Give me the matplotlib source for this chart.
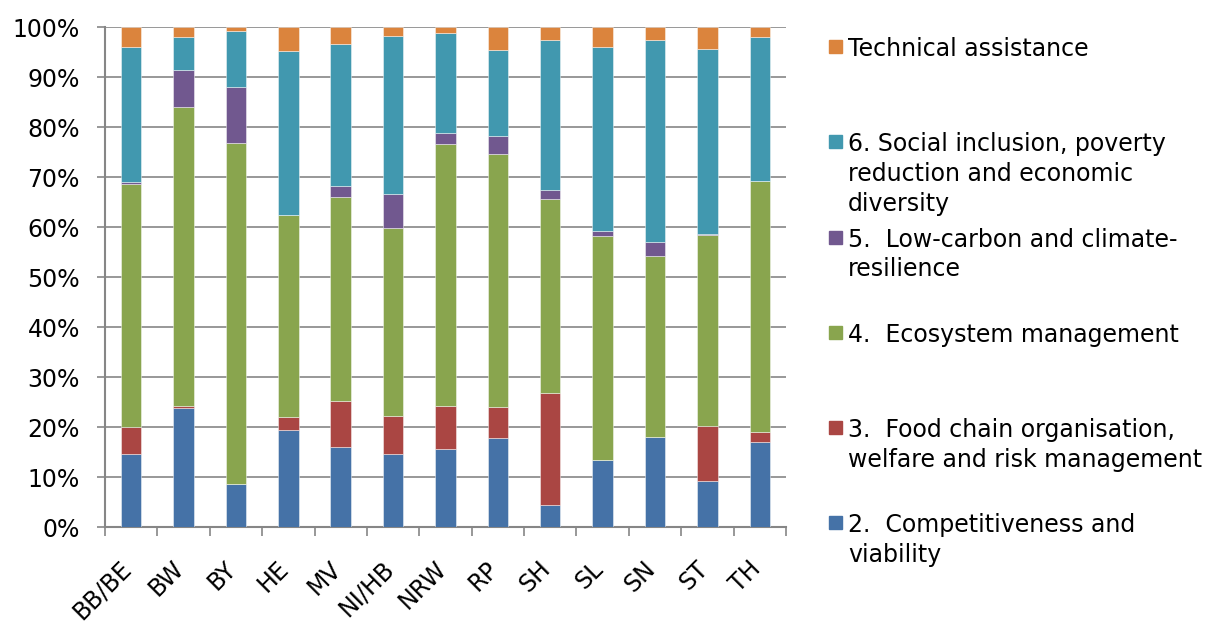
import numpy as np
import matplotlib.pyplot as plt
from matplotlib.patches import Rectangle
from matplotlib.ticker import MultipleLocator, PercentFormatter

# Share of planned spending per priority, by Land (in %)
regions = ['BB/BE', 'BW', 'BY', 'HE', 'MV', 'NI/HB', 'NRW',
           'RP', 'SH', 'SL', 'SN', 'ST', 'TH']

p2_competitiveness = [14.7, 23.9, 8.7, 19.4, 16.1, 14.7, 15.6, 17.8, 4.4, 13.5, 18.1, 9.3, 17.1]
p3_food_chain = [5.4, 0.3, 0.0, 2.6, 9.2, 7.6, 8.7, 6.2, 22.5, 0.0, 0.0, 11.0, 2.0]
p4_ecosystem = [48.5, 59.9, 68.2, 40.5, 40.8, 37.6, 52.4, 50.7, 38.8, 44.7, 36.2, 38.2, 50.1]
p5_low_carbon = [0.5, 7.3, 11.1, 0.0, 2.2, 6.7, 2.2, 3.5, 1.8, 1.0, 2.7, 0.2, 0.0]
p6_social = [27.0, 6.6, 11.3, 32.7, 28.3, 31.6, 20.0, 17.2, 29.9, 36.8, 40.4, 37.0, 28.9]
technical_assistance = [3.9, 2.0, 0.7, 4.8, 3.4, 1.8, 1.1, 4.6, 2.6, 4.0, 2.6, 4.3, 1.9]

series = [
    ('2.  Competitiveness and\nviability', p2_competitiveness, '#4572A7'),
    ('3.  Food chain organisation,\nwelfare and risk management', p3_food_chain, '#AA4643'),
    ('4.  Ecosystem management', p4_ecosystem, '#89A54E'),
    ('5.  Low-carbon and climate-\nresilience', p5_low_carbon, '#71588F'),
    ('6. Social inclusion, poverty\nreduction and economic\ndiversity', p6_social, '#4198AF'),
    ('Technical assistance', technical_assistance, '#DB843D'),
]

plt.rcParams['font.family'] = 'DejaVu Sans'
grey = '#868686'
fs = 17

fig = plt.figure(figsize=(12.12, 6.26), dpi=100)
ax = fig.add_axes([0.0866, 0.1577, 0.5619, 0.7987])

x = np.arange(len(regions))
bottom = np.zeros(len(regions))
for name, vals, col in series:
    vals = np.array(vals)
    ax.bar(x, vals, 0.39, bottom=bottom, color=col,
           edgecolor=(1, 1, 1, 0.45), linewidth=0.7, zorder=3)
    bottom += vals

ax.set_xlim(-0.5, len(regions) - 0.5)
ax.set_ylim(0, 100)
ax.yaxis.set_major_locator(MultipleLocator(10))
ax.yaxis.set_major_formatter(PercentFormatter(decimals=0))
ax.grid(axis='y', color=grey, linewidth=1.2, zorder=0)

# category ticks sit between the bars, labels slanted under each bar
ax.set_xticks(np.arange(-0.5, len(regions)), minor=False)
ax.set_xticklabels([])
ax.set_xticks(x - 0.22, minor=True)
ax.set_xticklabels(regions, minor=True, rotation=45, ha='right',
                   rotation_mode='anchor', fontsize=fs)
ax.tick_params(axis='x', which='minor', length=0, pad=21)
ax.tick_params(axis='x', which='major', length=6.5, width=1.2, color=grey)
ax.tick_params(axis='y', length=6, width=1.2, color=grey, labelsize=fs, pad=12)

for s in ['top', 'right']:
    ax.spines[s].set_visible(False)
for s in ['left', 'bottom']:
    ax.spines[s].set_color(grey)
    ax.spines[s].set_linewidth(1.5)

# legend on the right, top entry first
W, H = 1212, 626
step = 95.2
for i, (name, vals, col) in enumerate(series[::-1]):
    yc = 46.7 + i * step
    fig.add_artist(Rectangle((829 / W, 1 - (yc + 6.5) / H), 13 / W, 13 / H,
                             transform=fig.transFigure, color=col))
    fig.text(848 / W, 1 - (yc - 9.5) / H, name, fontsize=fs,
             va='top', ha='left', linespacing=1.31)

fig.savefig('out.png', dpi=100)
